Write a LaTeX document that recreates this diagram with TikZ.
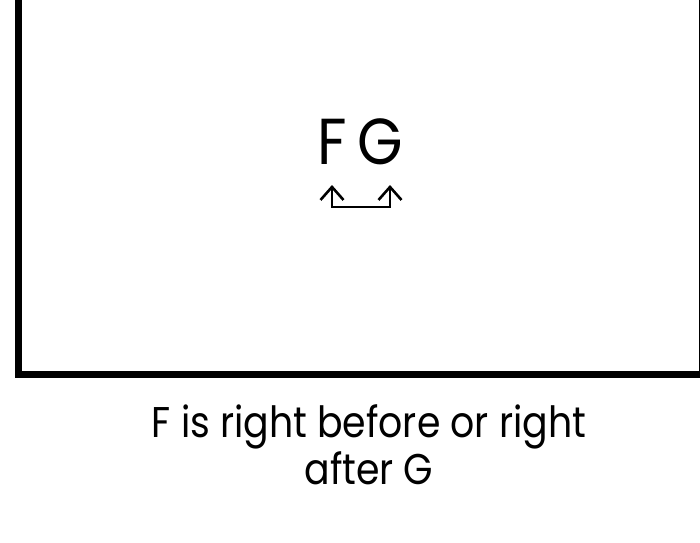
\documentclass[tikz,border=0pt]{standalone}
\usepackage{fontspec}
\setmainfont{Poppins}
\usetikzlibrary{arrows.meta}
\begin{document}
\begin{tikzpicture}[x=1pt,y=-1pt,
  frame/.style={line width=7pt},
  letter/.style={anchor=base,inner sep=0pt,font=\fontsize{65}{65}\selectfont\addfontfeature{FakeStretch=0.9}},
  link/.style={line width=2.6pt,{Straight Barb[length=13pt,width=23pt]}-{Straight Barb[length=13pt,width=23pt]}},
  caption/.style={align=center,inner sep=0pt,font=\fontsize{43}{47}\selectfont\addfontfeature{FakeStretch=0.88}}]
\useasboundingbox (0,0) rectangle (700,542);
\begin{scope}
\clip (0,0) rectangle (700,542);
\draw[frame] (18.5,-20) rectangle (702.5,374.5);
\end{scope}
\node[letter] (F) at (332,164) {F};
\node[letter] (G) at (380,164) {G};
\coordinate (fa) at (332,185);
\coordinate (ga) at (390,185);
\draw[link] (fa) -- (fa |- 0,207) -| (ga);
\node[caption] (cap) at (369,444.5) {F is right before or right\\after G};
\end{tikzpicture}
\end{document}
